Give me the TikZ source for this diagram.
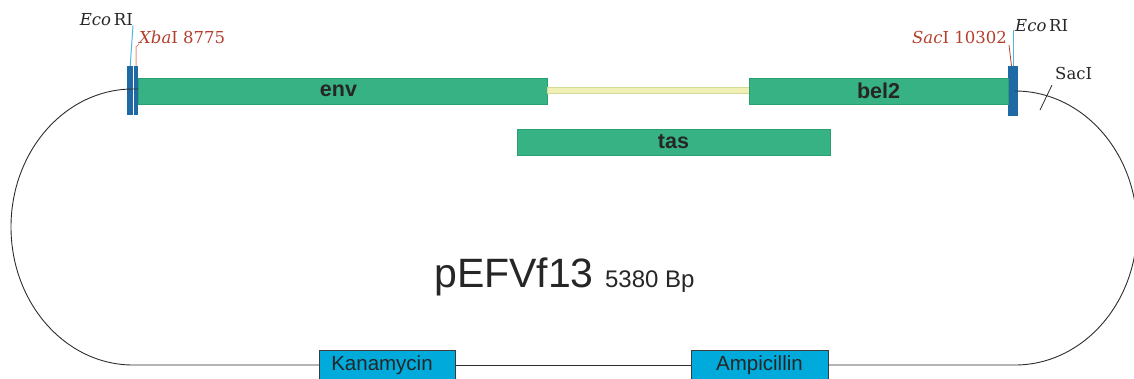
\documentclass[tikz,border=0pt]{standalone}
\usepackage{fontspec}
\setsansfont{Liberation Sans}
\newfontfamily\lblfont{DejaVu Serif}
\definecolor{genefill}{RGB}{54,178,132}
\definecolor{geneline}{RGB}{40,160,112}
\definecolor{barblue}{RGB}{31,106,165}
\definecolor{linkfill}{RGB}{240,240,182}
\definecolor{linkline}{RGB}{210,218,150}
\definecolor{resfill}{RGB}{0,170,219}
\definecolor{resline}{RGB}{60,60,60}
\definecolor{txtdark}{RGB}{38,38,38}
\definecolor{sitered}{RGB}{178,64,44}
\definecolor{ecoline}{RGB}{80,182,224}
\definecolor{xbaline}{RGB}{224,146,126}
\definecolor{backbone}{RGB}{45,45,45}
\begin{document}
\begin{tikzpicture}[x=1pt,y=-1pt,
  gene/.style={draw=geneline, fill=genefill, line width=1pt, inner sep=0pt, outer sep=0pt,
    minimum height=26pt, text=txtdark, font=\sffamily\bfseries\fontsize{21.5}{21.5}\selectfont},
  linker/.style={draw=linkline, fill=linkfill, line width=1pt, inner sep=0pt, outer sep=0pt, minimum height=6.5pt},
  bar/.style={fill=barblue, inner sep=0pt, outer sep=0pt},
  res/.style={draw=resline, fill=resfill, line width=0.8pt, inner sep=0pt, outer sep=0pt,
    minimum height=30pt, text=txtdark, font=\sffamily\fontsize{20.5}{20.5}\selectfont},
  sitelbl/.style={inner sep=0pt, text=sitered, font=\lblfont\fontsize{16.5}{16.5}\selectfont},
  blklbl/.style={inner sep=0pt, text=txtdark, font=\lblfont\fontsize{16.5}{16.5}\selectfont},
  bb/.style={draw=backbone, line width=0.9pt}
]
\useasboundingbox (0,0) rectangle (1134,378);
% restriction-site bars
\node[bar, minimum width=5.7pt, minimum height=49pt] (ecoL) at (130.2,90.5) {};
\node[bar, minimum width=4pt, minimum height=49pt] (xba) at (136,90.5) {};
\node[bar, minimum width=10pt, minimum height=50pt] (ecoR) at (1013,91) {};
% genes
\node[gene, minimum width=409pt] (env) at (342.5,91) {\hspace*{-8pt}env};
\node[linker, minimum width=202pt] (link) at (648,90.5) {};
\node[gene, minimum width=259pt] (bel) at (878.5,91) {bel2};
\node[gene, minimum width=313pt] (tas) at (673.5,142) {tas};
% resistance boxes
\node[res, minimum width=136pt] (kan) at (387,365) {\hspace*{-10pt}Kanamycin};
\node[res, minimum width=137pt] (amp) at (759.5,365) {Ampicillin};
% backbone
\coordinate (tl) at (138,89);
\coordinate (tr) at (1015,91);
\draw[bb] (tl) -- (133,89) arc[start angle=270, end angle=90, x radius=122, y radius=138] -- (kan.west);
\draw[bb] (kan.east) -- (amp.west);
\draw[bb] (amp.east) -- (1015,365) arc[start angle=90, end angle=-90, x radius=122, y radius=137] -- (tr);
% SacI tick
\coordinate (sacA) at (1052,85);
\coordinate (sacB) at (1040,110);
\draw[bb, line width=0.8pt] (sacA) -- (sacB);
\node[blklbl, anchor=base west] (sacIlbl) at (1055,79) {SacI};
% labels
\node[blklbl, anchor=base east] (ecoLlbl) at (133,25) {\textit{Eco}\,RI};
\draw[ecoline, line width=1pt] (ecoL.north) -- (ecoLlbl.south east);
\node[sitelbl, anchor=base west] (xbalbl) at (139,43.5) {\textit{Xba}I 8775};
\draw[xbaline, line width=1pt] (xba.north) -- (136,47) -- (xbalbl.south west);
\node[blklbl, anchor=base west] (ecoRlbl) at (1015,31) {\textit{Eco}\,RI};
\draw[ecoline, line width=1pt] (1013.7,66) -- (1013.7,30);
\node[sitelbl, anchor=base east] (saclbl) at (1007,43.3) {\textit{Sac}I 10302};
\draw[sitered, line width=0.8pt] (1009,45) -- (1011.5,66);
% title
\node[inner sep=0pt, anchor=base west, text=txtdark, font=\sffamily] (title) at (434,287)
  {\fontsize{41}{41}\selectfont pEFVf13 \fontsize{24}{24}\selectfont 5380 Bp};
\end{tikzpicture}
\end{document}
